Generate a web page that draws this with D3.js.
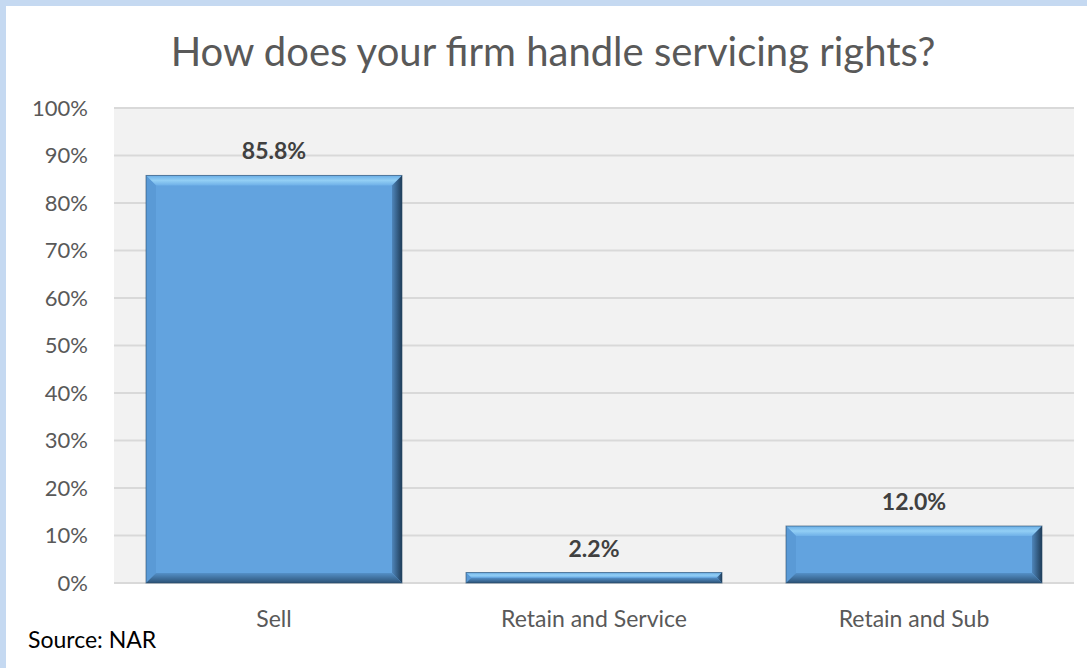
<!DOCTYPE html>
<html>
<head>
<meta charset="utf-8">
<script src="https://cdn.jsdelivr.net/npm/d3@7"></script>
<style>
  body { margin: 0; background: #fff; }
  svg { display: block; font-family: Lato, "Open Sans", sans-serif; }
</style>
</head>
<body>
<div id="chart"></div>
<script>
var categories = ['Sell', 'Retain and Service', 'Retain and Sub'];
var values = [85.8, 2.2, 12.0];
var yTicks = [0, 10, 20, 30, 40, 50, 60, 70, 80, 90, 100];

var W = 1087, H = 668;
var margin = {top: 108, right: 13, bottom: 85, left: 114};

var svg = d3.select('#chart').append('svg')
    .attr('width', W)
    .attr('height', H);

// pale blue frame on left and top
svg.append('rect').attr('x', 0).attr('y', 0).attr('width', W).attr('height', H).attr('fill', '#c5d9f1');
svg.append('rect').attr('x', 6).attr('y', 6).attr('width', W - 6).attr('height', H - 6).attr('fill', '#fff');

var x = d3.scaleBand()
    .domain(categories)
    .range([margin.left, W - margin.right])
    .paddingInner(0.2)
    .paddingOuter(0.1);

var y = d3.scaleLinear()
    .domain([0, 100])
    .range([H - margin.bottom, margin.top]);

// plot area
svg.append('rect')
    .attr('x', margin.left)
    .attr('y', margin.top)
    .attr('width', W - margin.right - margin.left)
    .attr('height', H - margin.bottom - margin.top)
    .attr('fill', '#f2f2f2');

svg.append('g').selectAll('line')
    .data(yTicks)
    .enter().append('line')
    .attr('x1', margin.left)
    .attr('x2', W - margin.right)
    .attr('y1', function(d) { return y(d); })
    .attr('y2', function(d) { return y(d); })
    .attr('stroke', '#d9d9d9')
    .attr('stroke-width', 2);

// y axis labels
var yAxis = d3.axisLeft(y)
    .tickValues(yTicks)
    .tickFormat(function(d) { return d + '%'; })
    .tickSize(0)
    .tickPadding(26);
var gy = svg.append('g')
    .attr('transform', 'translate(' + margin.left + ',0)')
    .call(yAxis);
gy.select('.domain').remove();
gy.selectAll('text')
    .attr('fill', '#595959')
    .style('font-size', '22px')
    .style('font-family', 'Lato, "Open Sans", sans-serif');

// x axis labels
var xAxis = d3.axisBottom(x).tickSize(0).tickPadding(28);
var gx = svg.append('g')
    .attr('transform', 'translate(0,' + (H - margin.bottom) + ')')
    .call(xAxis);
gx.select('.domain').remove();
gx.selectAll('text')
    .attr('fill', '#595959')
    .style('font-size', '23px')
    .style('font-family', 'Lato, "Open Sans", sans-serif');

// bevelled bars
var defs = svg.append('defs');
var gTop = defs.append('linearGradient').attr('id', 'bvTop').attr('x1', 0).attr('y1', 0).attr('x2', 0).attr('y2', 1);
gTop.append('stop').attr('offset', 0).attr('stop-color', '#6aaee6');
gTop.append('stop').attr('offset', 0.5).attr('stop-color', '#93cff5');
gTop.append('stop').attr('offset', 1).attr('stop-color', '#6eb0e8');
var gRight = defs.append('linearGradient').attr('id', 'bvRight').attr('x1', 0).attr('y1', 0).attr('x2', 1).attr('y2', 0);
gRight.append('stop').attr('offset', 0).attr('stop-color', '#4f86bb');
gRight.append('stop').attr('offset', 1).attr('stop-color', '#1f3c58');
var gBot = defs.append('linearGradient').attr('id', 'bvBot').attr('x1', 0).attr('y1', 0).attr('x2', 0).attr('y2', 1);
gBot.append('stop').attr('offset', 0).attr('stop-color', '#5490c8');
gBot.append('stop').attr('offset', 1).attr('stop-color', '#2c5276');

var bars = svg.append('g').selectAll('g')
    .data(categories)
    .enter().append('g');

function pts(a) { return a.map(function(p) { return p.join(','); }).join(' '); }

bars.each(function(c, i) {
  var g = d3.select(this);
  var x0 = x(c), x1 = x(c) + x.bandwidth();
  var y0 = y(values[i]), y1 = y(0);
  var b = Math.min(10, (y1 - y0) / 2);
  g.append('rect')
      .attr('x', x0).attr('y', y0)
      .attr('width', x1 - x0).attr('height', y1 - y0)
      .attr('fill', '#62a3df');
  g.append('polygon')
      .attr('points', pts([[x0, y0], [x1, y0], [x1 - b, y0 + b], [x0 + b, y0 + b]]))
      .attr('fill', 'url(#bvTop)');
  g.append('polygon')
      .attr('points', pts([[x0, y0], [x0 + b, y0 + b], [x0 + b, y1 - b], [x0, y1]]))
      .attr('fill', '#5a9ad6');
  g.append('polygon')
      .attr('points', pts([[x1, y0], [x1, y1], [x1 - b, y1 - b], [x1 - b, y0 + b]]))
      .attr('fill', 'url(#bvRight)');
  g.append('polygon')
      .attr('points', pts([[x0, y1], [x1, y1], [x1 - b, y1 - b], [x0 + b, y1 - b]]))
      .attr('fill', 'url(#bvBot)');
  g.append('rect')
      .attr('x', x0).attr('y', y0)
      .attr('width', x1 - x0).attr('height', y1 - y0)
      .attr('fill', 'none')
      .attr('stroke', '#2a4a68')
      .attr('stroke-opacity', 0.6)
      .attr('stroke-width', 1);
});

// data labels
svg.append('g').selectAll('text')
    .data(categories)
    .enter().append('text')
    .attr('x', function(c) { return x(c) + x.bandwidth() / 2; })
    .attr('y', function(c, i) { return y(values[i]) - 16; })
    .attr('text-anchor', 'middle')
    .attr('fill', '#404040')
    .style('font-size', '23px')
    .style('font-weight', 'bold')
    .text(function(c, i) { return values[i].toFixed(1) + '%'; });

// title
svg.append('text')
    .attr('x', 553)
    .attr('y', 66)
    .attr('text-anchor', 'middle')
    .attr('fill', '#595959')
    .style('font-size', '40px')
    .text('How does your firm handle servicing rights?');

svg.append('text')
    .attr('x', 28)
    .attr('y', 648)
    .attr('fill', '#000')
    .style('font-size', '23px')
    .text('Source: NAR');
</script>
</body>
</html>
